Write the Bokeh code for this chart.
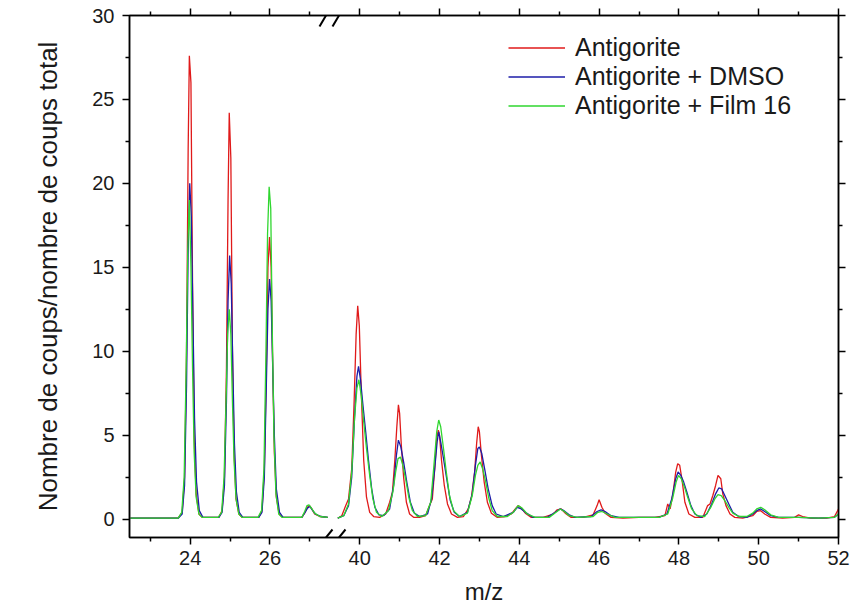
from bokeh.plotting import figure
from bokeh.models import FixedTicker, LinearAxis, Legend, LegendItem, Range1d, Arrow
from bokeh.embed import file_html
from bokeh.resources import INLINE

# ---------------- data (m/z, normalised counts) ----------------
series_names = ["Antigorite", "Antigorite + DMSO", "Antigorite + Film 16"]
series_colors = ["#e01a1a", "#1c1ca8", "#2fd62f"]

antigorite_low = [
    (22.5, 0.05), (23.7, 0.05), (23.8, 0.4), (23.86, 2.5), (23.91, 10), (23.95, 22), (23.98, 27.6),
    (24.02, 26.0), (24.06, 14), (24.1, 5), (24.15, 1.5), (24.22, 0.3), (24.3, 0.1), (24.72, 0.1),
    (24.8, 0.5), (24.86, 2.5), (24.91, 9), (24.95, 19), (24.98, 24.2), (25.02, 21.5), (25.06, 10),
    (25.1, 4), (25.15, 1.2), (25.22, 0.3), (25.3, 0.1), (25.72, 0.1), (25.8, 0.5), (25.86, 3),
    (25.91, 9), (25.95, 15), (25.99, 16.8), (26.03, 15), (26.07, 9), (26.11, 4), (26.16, 1.3),
    (26.23, 0.3), (26.32, 0.1), (26.8, 0.1), (26.88, 0.4), (26.94, 0.7), (26.99, 0.8), (27.05, 0.6),
    (27.12, 0.3), (27.25, 0.15), (27.45, 0.1),
]
antigorite_high = [
    (39.45, 0.05), (39.55, 0.2), (39.65, 0.8), (39.72, 1.2), (39.8, 3.0), (39.86, 7.0), (39.91, 11.0),
    (39.95, 12.7), (39.99, 11.5), (40.04, 7.5), (40.1, 3.5), (40.17, 1.3), (40.25, 0.4), (40.35, 0.15),
    (40.5, 0.1), (40.65, 0.3), (40.75, 1.0), (40.82, 1.6), (40.88, 3.5), (40.93, 5.5), (40.97, 6.8),
    (41.0, 6.3), (41.04, 4.5), (41.1, 2.5), (41.17, 1.0), (41.25, 0.3), (41.35, 0.1), (41.5, 0.1),
    (41.65, 0.2), (41.75, 0.8), (41.82, 1.2), (41.88, 3.0), (41.93, 4.8), (41.97, 5.3), (42.0, 5.0),
    (42.05, 3.5), (42.12, 2.0), (42.2, 0.9), (42.3, 0.3), (42.45, 0.1), (42.6, 0.15), (42.72, 0.6),
    (42.8, 1.3), (42.88, 2.8), (42.93, 4.5), (42.97, 5.5), (43.0, 5.2), (43.05, 3.8), (43.12, 2.2),
    (43.2, 1.0), (43.3, 0.35), (43.45, 0.1), (43.65, 0.15), (43.8, 0.3), (43.9, 0.6), (43.97, 0.8),
    (44.05, 0.65), (44.15, 0.35), (44.3, 0.1), (44.6, 0.1), (44.85, 0.3), (44.95, 0.55), (45.05, 0.6),
    (45.15, 0.35), (45.3, 0.1), (45.6, 0.1), (45.85, 0.25), (45.95, 0.8), (46.0, 1.15), (46.07, 0.7),
    (46.15, 0.35), (46.3, 0.1), (46.6, 0.05), (47.0, 0.1), (47.4, 0.1), (47.65, 0.2), (47.72, 0.9),
    (47.78, 0.6), (47.85, 1.5), (47.92, 2.8), (47.97, 3.3), (48.02, 3.2), (48.08, 2.3), (48.15, 1.0),
    (48.25, 0.3), (48.4, 0.1), (48.6, 0.1), (48.72, 0.8), (48.78, 0.9), (48.85, 1.4), (48.92, 2.0),
    (48.98, 2.6), (49.05, 2.4), (49.1, 1.5), (49.18, 0.8), (49.28, 0.3), (49.4, 0.1), (49.6, 0.05),
    (49.85, 0.2), (49.95, 0.45), (50.05, 0.5), (50.15, 0.3), (50.3, 0.1), (50.6, 0.05), (50.9, 0.1),
    (51.0, 0.25), (51.1, 0.15), (51.3, 0.05), (51.7, 0.05), (51.9, 0.15), (52.0, 0.6),
]

dmso_low = [
    (22.5, 0.05), (23.7, 0.05), (23.8, 0.3), (23.86, 2), (23.91, 8), (23.95, 16), (23.99, 20),
    (24.03, 18), (24.07, 12), (24.11, 6), (24.16, 2.2), (24.23, 0.5), (24.32, 0.1), (24.72, 0.1),
    (24.8, 0.4), (24.86, 2), (24.91, 7), (24.95, 13), (24.99, 15.7), (25.03, 14), (25.07, 9),
    (25.11, 4.5), (25.16, 1.6), (25.23, 0.4), (25.32, 0.1), (25.72, 0.1), (25.8, 0.4), (25.86, 2.5),
    (25.91, 8), (25.95, 12.5), (25.99, 14.3), (26.03, 13), (26.07, 9), (26.11, 5), (26.16, 1.8),
    (26.24, 0.4), (26.33, 0.1), (26.8, 0.1), (26.88, 0.4), (26.94, 0.65), (27.0, 0.75), (27.06, 0.55),
    (27.14, 0.3), (27.28, 0.15), (27.45, 0.1),
]
dmso_high = [
    (39.45, 0.05), (39.6, 0.2), (39.72, 0.8), (39.8, 2.5), (39.87, 6.0), (39.93, 8.5), (39.97, 9.1),
    (40.02, 8.3), (40.08, 6.8), (40.15, 5.2), (40.22, 3.5), (40.3, 1.8), (40.38, 0.7), (40.48, 0.25),
    (40.6, 0.2), (40.75, 0.6), (40.85, 2.0), (40.92, 3.8), (40.97, 4.7), (41.03, 4.3), (41.1, 3.4),
    (41.18, 2.2), (41.27, 1.0), (41.37, 0.35), (41.5, 0.15), (41.7, 0.3), (41.8, 1.2), (41.88, 3.0),
    (41.94, 4.6), (41.98, 5.2), (42.03, 4.6), (42.1, 3.6), (42.18, 2.4), (42.27, 1.1), (42.37, 0.4),
    (42.5, 0.15), (42.7, 0.4), (42.82, 1.5), (42.9, 3.2), (42.96, 4.2), (43.0, 4.3), (43.06, 3.9),
    (43.13, 3.0), (43.22, 1.8), (43.32, 0.8), (43.42, 0.3), (43.6, 0.15), (43.85, 0.4), (43.95, 0.7),
    (44.05, 0.6), (44.18, 0.35), (44.35, 0.1), (44.7, 0.1), (44.9, 0.4), (45.02, 0.6), (45.12, 0.5),
    (45.25, 0.25), (45.4, 0.1), (45.8, 0.15), (45.95, 0.45), (46.05, 0.55), (46.15, 0.45), (46.3, 0.2),
    (46.5, 0.1), (47.0, 0.1), (47.5, 0.1), (47.7, 0.3), (47.82, 1.2), (47.92, 2.4), (47.98, 2.8),
    (48.05, 2.6), (48.12, 2.2), (48.2, 1.6), (48.3, 0.8), (48.4, 0.3), (48.55, 0.1), (48.7, 0.3),
    (48.82, 0.9), (48.92, 1.5), (49.0, 1.85), (49.07, 1.8), (49.15, 1.4), (49.25, 0.9), (49.35, 0.4),
    (49.5, 0.15), (49.7, 0.1), (49.85, 0.3), (49.95, 0.5), (50.05, 0.6), (50.15, 0.45), (50.3, 0.2),
    (50.5, 0.1), (51.0, 0.1), (51.5, 0.05), (51.9, 0.1), (52.0, 0.3),
]

film_low = [
    (22.5, 0.05), (23.7, 0.05), (23.79, 0.4), (23.85, 2.5), (23.9, 9), (23.94, 16), (23.98, 19),
    (24.02, 15), (24.06, 9), (24.1, 4), (24.15, 1.3), (24.22, 0.3), (24.3, 0.1), (24.7, 0.1),
    (24.79, 0.4), (24.85, 2.5), (24.9, 7), (24.94, 11), (24.98, 12.5), (25.02, 11), (25.06, 7),
    (25.1, 3.5), (25.15, 1.2), (25.22, 0.3), (25.3, 0.1), (25.7, 0.1), (25.79, 0.5), (25.85, 3),
    (25.9, 10), (25.94, 17), (25.98, 19.8), (26.02, 18.5), (26.06, 11), (26.1, 5), (26.15, 1.5),
    (26.22, 0.3), (26.3, 0.1), (26.8, 0.1), (26.87, 0.45), (26.93, 0.8), (26.98, 0.85), (27.04, 0.65),
    (27.12, 0.35), (27.25, 0.15), (27.45, 0.1),
]
film_high = [
    (39.45, 0.05), (39.6, 0.2), (39.72, 0.9), (39.8, 2.8), (39.87, 6.0), (39.93, 7.8), (39.98, 8.3),
    (40.04, 7.3), (40.1, 5.8), (40.17, 4.2), (40.25, 2.6), (40.33, 1.2), (40.42, 0.4), (40.55, 0.15),
    (40.72, 0.5), (40.83, 1.6), (40.9, 2.8), (40.96, 3.6), (41.02, 3.7), (41.08, 3.2), (41.15, 2.4),
    (41.23, 1.3), (41.32, 0.5), (41.45, 0.15), (41.65, 0.2), (41.78, 1.0), (41.86, 3.2), (41.93, 5.2),
    (41.98, 5.9), (42.03, 5.5), (42.1, 4.2), (42.17, 2.8), (42.25, 1.4), (42.35, 0.5), (42.5, 0.15),
    (42.7, 0.35), (42.82, 1.4), (42.9, 2.6), (42.96, 3.2), (43.02, 3.4), (43.08, 3.0), (43.15, 2.3),
    (43.23, 1.3), (43.32, 0.5), (43.45, 0.15), (43.7, 0.15), (43.85, 0.4), (43.97, 0.8), (44.07, 0.65),
    (44.2, 0.3), (44.4, 0.1), (44.75, 0.1), (44.92, 0.4), (45.03, 0.6), (45.13, 0.45), (45.25, 0.2),
    (45.45, 0.1), (45.85, 0.15), (45.97, 0.4), (46.07, 0.45), (46.2, 0.3), (46.4, 0.1), (47.0, 0.1),
    (47.5, 0.1), (47.72, 0.3), (47.84, 1.2), (47.93, 2.2), (47.99, 2.6), (48.06, 2.4), (48.14, 1.9),
    (48.22, 1.3), (48.32, 0.6), (48.45, 0.2), (48.65, 0.15), (48.8, 0.7), (48.9, 1.2), (48.98, 1.45),
    (49.06, 1.4), (49.15, 1.1), (49.25, 0.7), (49.35, 0.35), (49.5, 0.15), (49.7, 0.15), (49.85, 0.35),
    (49.95, 0.6), (50.05, 0.7), (50.15, 0.55), (50.3, 0.25), (50.5, 0.1), (51.0, 0.1), (51.5, 0.05),
    (51.9, 0.1), (52.0, 0.3),
]

x_major_labels = [24, 26, 40, 42, 44, 46, 48, 50, 52]
x_minor_values = [23, 25, 27, 41, 43, 45, 47, 49, 51]
y_major_values = [0, 5, 10, 15, 20, 25, 30]
y_minor_values = [2.5, 7.5, 12.5, 17.5, 22.5, 27.5]

# ---------------- axis break: right panel is shifted left ----------------
BREAK_SHIFT = 11.75
X0, X1 = 22.48, 52 - BREAK_SHIFT
Y0, Y1 = -1.1, 30
FRAME_W, FRAME_H = 709, 522


def to_plot(x):
    return x if x < 33 else x - BREAK_SHIFT


FONT = "Liberation Sans"
TXT = "#1a1a1a"

p = figure(width=851, height=615, output_backend="svg", toolbar_location=None,
           x_range=Range1d(X0, X1), y_range=Range1d(Y0, Y1),
           min_border_left=129, min_border_right=13, min_border_top=15, min_border_bottom=78,
           background_fill_color="white", border_fill_color="white")
p.xgrid.visible = False
p.ygrid.visible = False
p.outline_line_color = "black"
p.outline_line_width = 1.5

x_ticker = FixedTicker(ticks=[to_plot(v) for v in x_major_labels],
                       minor_ticks=[to_plot(v) for v in x_minor_values])
y_ticker = FixedTicker(ticks=y_major_values, minor_ticks=y_minor_values)
overrides = {to_plot(v): str(v) for v in x_major_labels}

renderers = []
for name, color, low, high in zip(series_names, series_colors,
                                   [antigorite_low, dmso_low, film_low],
                                   [antigorite_high, dmso_high, film_high]):
    r1 = p.line([to_plot(a) for a, b in low], [b for a, b in low], line_color=color, line_width=1.3)
    p.line([to_plot(a) for a, b in high], [b for a, b in high], line_color=color, line_width=1.3)
    renderers.append(r1)


def style_axis(ax):
    ax.axis_line_color = "black"
    ax.axis_line_width = 1.5
    ax.major_tick_line_color = "black"
    ax.major_tick_line_width = 1.5
    ax.minor_tick_line_color = "black"
    ax.minor_tick_line_width = 1.5
    ax.major_tick_in = 0
    ax.major_tick_out = 7
    ax.minor_tick_in = 0
    ax.minor_tick_out = 4
    ax.major_label_text_font = FONT
    ax.major_label_text_color = TXT
    ax.axis_label_text_font = FONT
    ax.axis_label_text_color = TXT
    ax.axis_label_text_font_style = "normal"


xa = p.xaxis[0]
xa.ticker = x_ticker
xa.major_label_overrides = overrides
xa.axis_label = "m/z"
style_axis(xa)
xa.major_label_text_font_size = "20px"
xa.major_label_standoff = 6
xa.axis_label_text_font_size = "24px"
xa.axis_label_standoff = 10

ya = p.yaxis[0]
ya.ticker = y_ticker
ya.axis_label = "Nombre de coups/nombre de coups total"
style_axis(ya)
ya.major_label_text_font_size = "20px"
ya.major_label_standoff = 8
ya.axis_label_text_font_size = "26px"
ya.axis_label_standoff = 26

# mirrored tick axes without labels
top = LinearAxis(ticker=x_ticker, major_label_overrides={to_plot(v): "" for v in x_major_labels})
style_axis(top)
top.major_label_standoff = 0
p.add_layout(top, "above")
right = LinearAxis(ticker=y_ticker, major_label_overrides={v: "" for v in y_major_values})
style_axis(right)
right.major_label_standoff = 0
p.add_layout(right, "right")

legend = Legend(items=[LegendItem(label=n, renderers=[r]) for n, r in zip(series_names, renderers)],
                location=(379, 417), border_line_color=None, background_fill_alpha=0,
                padding=0, margin=0, spacing=0, glyph_width=57, glyph_height=29,
                label_height=29, label_standoff=10, label_text_font=FONT,
                label_text_font_size="25px", label_text_color=TXT)
p.add_layout(legend)

# axis-break marks "//" on bottom and top axes (positions in frame pixels)
ux = (X1 - X0) / FRAME_W
uy = (Y1 - Y0) / FRAME_H
for base_y, half in [(Y0, 8), (Y1, 11)]:
    for dx in [-6.5, 6.5]:
        cx = X0 + (332 - 129 + dx) * ux
        p.add_layout(Arrow(start=None, end=None, x_start=cx - 6.5 * ux, y_start=base_y - half * uy,
                           x_end=cx + 6.5 * ux, y_end=base_y + half * uy,
                           line_color="black", line_width=2))

open("out.html", "w").write(file_html(p, INLINE))
